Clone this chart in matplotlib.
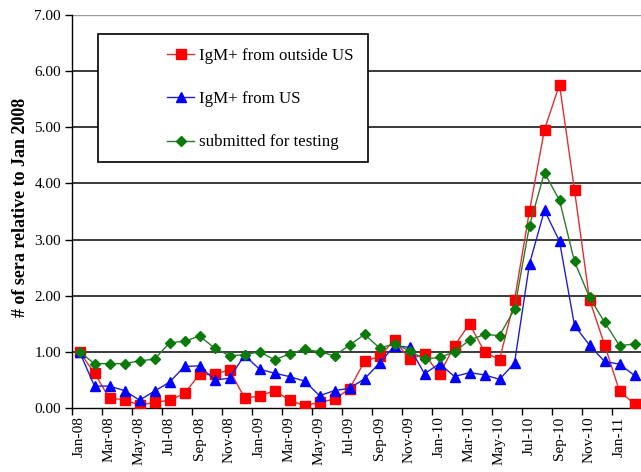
import matplotlib
matplotlib.use("Agg")
import matplotlib.pyplot as plt
from matplotlib.patches import Rectangle
from matplotlib.lines import Line2D

months = ["Jan-08", "Feb-08", "Mar-08", "Apr-08", "May-08", "Jun-08", "Jul-08", "Aug-08",
          "Sep-08", "Oct-08", "Nov-08", "Dec-08", "Jan-09", "Feb-09", "Mar-09", "Apr-09",
          "May-09", "Jun-09", "Jul-09", "Aug-09", "Sep-09", "Oct-09", "Nov-09", "Dec-09",
          "Jan-10", "Feb-10", "Mar-10", "Apr-10", "May-10", "Jun-10", "Jul-10", "Aug-10",
          "Sep-10", "Oct-10", "Nov-10", "Dec-10", "Jan-11", "Feb-11"]

outside_us = [1.00, 0.62, 0.17, 0.15, 0.05, 0.10, 0.14, 0.26, 0.60, 0.60, 0.68, 0.18,
              0.21, 0.31, 0.14, 0.04, 0.10, 0.16, 0.34, 0.83, 0.92, 1.21, 0.87, 0.96,
              0.60, 1.11, 1.50, 1.00, 0.86, 1.92, 3.51, 4.96, 5.76, 3.88, 1.93, 1.13,
              0.30, 0.07]
from_us = [1.00, 0.39, 0.39, 0.31, 0.14, 0.30, 0.46, 0.74, 0.75, 0.50, 0.53, 0.94,
           0.69, 0.62, 0.56, 0.48, 0.22, 0.31, 0.35, 0.52, 0.80, 1.11, 1.08, 0.61,
           0.79, 0.56, 0.63, 0.59, 0.51, 0.80, 2.57, 3.52, 2.97, 1.47, 1.12, 0.83,
           0.78, 0.58]
submitted = [1.00, 0.79, 0.79, 0.79, 0.84, 0.87, 1.16, 1.19, 1.28, 1.07, 0.93, 0.95,
             1.00, 0.86, 0.96, 1.05, 1.00, 0.93, 1.12, 1.31, 1.07, 1.14, 1.02, 0.87,
             0.90, 1.00, 1.21, 1.31, 1.29, 1.76, 3.25, 4.19, 3.70, 2.61, 1.97, 1.53,
             1.11, 1.14]

series_labels = ["IgM+ from outside US", "IgM+ from US", "submitted for testing"]
yticks = [0, 1, 2, 3, 4, 5, 6, 7]

serif = ["Liberation Serif", "DejaVu Serif"]
plt.rcParams["font.family"] = serif

W, H = 641, 472
fig = plt.figure(figsize=(W / 100, H / 100), dpi=100)
left, right, top, bottom = 72, 642, 15, 408
ax = fig.add_axes([left / W, 1 - bottom / H, (right - left) / W, (bottom - top) / H])

x = list(range(len(months)))

# gridlines
for v in yticks[1:-1]:
    ax.axhline(v, color="#3a3a3a", lw=1.4, zorder=1)
ax.axhline(7, color="#9a9a9a", lw=1.0, zorder=1)

ax.plot(x, outside_us, color="#e03030", lw=1.0, marker="s", markersize=6.5,
        markerfacecolor="#ff0000", markeredgecolor="#ff0000", zorder=3)
ax.plot(x, from_us, color="#2020d0", lw=1.0, marker="^", markersize=7,
        markerfacecolor="#0000ff", markeredgecolor="#0000ff", zorder=4)
ax.plot(x, submitted, color="#2a7a2a", lw=1.0, marker="D", markersize=5.2,
        markerfacecolor="#0a7a0a", markeredgecolor="#0a7a0a", zorder=5)

ax.set_xlim(-0.5, len(months) - 0.5)
ax.set_ylim(0, 7)
ax.set_yticks(yticks)
ax.set_yticklabels([f"{v:.2f}" for v in yticks], fontsize=11)

# x: ticks at boundaries every 2 months, labels at every other month
ax.set_xticks([i - 0.5 for i in range(0, len(months), 2)])
ax.set_xticklabels([])
ax.set_xticks(x[::2], minor=True)
ax.set_xticklabels(months[::2], minor=True, rotation=90, fontsize=11)
ax.tick_params(axis="x", which="major", direction="out", length=5, width=1, color="black")
ax.tick_params(axis="x", which="minor", length=0, pad=6)
ax.tick_params(axis="y", direction="out", length=5, width=1, pad=3)

for s in ["top", "right"]:
    ax.spines[s].set_visible(False)
for s in ["left", "bottom"]:
    ax.spines[s].set_color("black")
    ax.spines[s].set_linewidth(1.0)

ax.set_ylabel("# of sera relative to Jan 2008", fontsize=13, fontweight="bold")
ax.yaxis.set_label_coords(-0.075, 0.51)

# legend box
bx0, by0, bx1, by1 = 98, 34, 368, 162
fig.patches.append(Rectangle((bx0 / W, 1 - by1 / H), (bx1 - bx0) / W, (by1 - by0) / H,
                             transform=fig.transFigure, facecolor="white",
                             edgecolor="black", lw=1.2, zorder=10))
handles = [
    Line2D([], [], color="#e03030", lw=1.0, marker="s", markersize=6.5,
           markerfacecolor="#ff0000", markeredgecolor="#ff0000"),
    Line2D([], [], color="#2020d0", lw=1.0, marker="^", markersize=7,
           markerfacecolor="#0000ff", markeredgecolor="#0000ff"),
    Line2D([], [], color="#2a7a2a", lw=1.0, marker="D", markersize=5.2,
           markerfacecolor="#0a7a0a", markeredgecolor="#0a7a0a"),
]
leg = fig.legend(handles, series_labels, loc="upper left",
                 bbox_to_anchor=(152 / W, 1 - 33 / H), frameon=False,
                 prop={"family": serif, "size": 12.2}, handlelength=1.6,
                 handletextpad=0.3, labelspacing=1.6)
leg.set_zorder(11)

fig.savefig("out.png", dpi=100)
